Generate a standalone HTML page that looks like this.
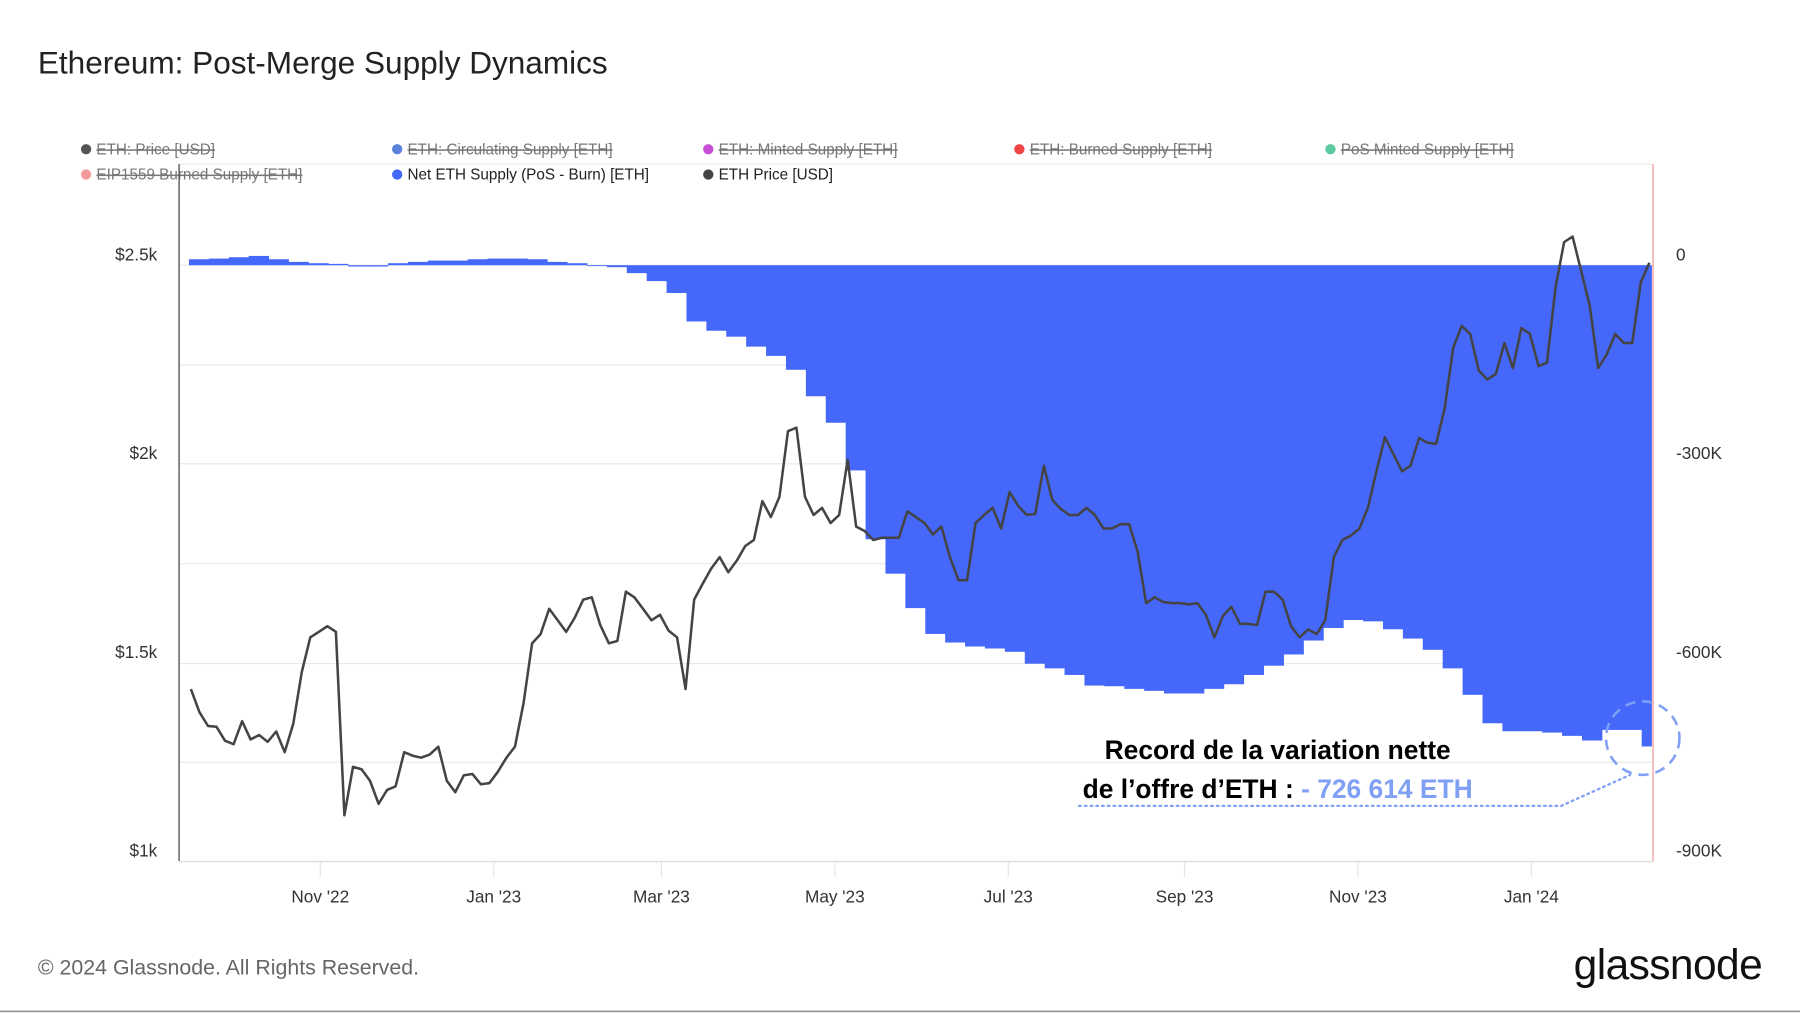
<!DOCTYPE html>
<html><head><meta charset="utf-8">
<style>
html,body{margin:0;padding:0;background:#fff;}
svg{display:block;font-family:"Liberation Sans",sans-serif;}
</style></head>
<body>
<svg id="chart" width="1800" height="1013" viewBox="0 0 1568 882.4" xmlns="http://www.w3.org/2000/svg">
<defs><clipPath id="plotClip"><rect x="156" y="143" width="1283" height="608"/></clipPath></defs>
<text x="33" y="64" font-size="27.5" fill="#222">Ethereum: Post-Merge Supply Dynamics</text>

<g font-size="13.3">
 <g><circle cx="75" cy="130" r="4.5" fill="#555"/><text x="84" y="134.5" fill="#777" text-decoration="line-through">ETH: Price [USD]</text></g>
 <g><circle cx="346" cy="130" r="4.5" fill="#5b82d8"/><text x="355" y="134.5" fill="#777" text-decoration="line-through">ETH: Circulating Supply [ETH]</text></g>
 <g><circle cx="617" cy="130" r="4.5" fill="#c94fd6"/><text x="626" y="134.5" fill="#777" text-decoration="line-through">ETH: Minted Supply [ETH]</text></g>
 <g><circle cx="888" cy="130" r="4.5" fill="#ee4444"/><text x="897" y="134.5" fill="#777" text-decoration="line-through">ETH: Burned Supply [ETH]</text></g>
 <g><circle cx="1159" cy="130" r="4.5" fill="#5cc9a0"/><text x="1168" y="134.5" fill="#777" text-decoration="line-through">PoS Minted Supply [ETH]</text></g>
 <g><circle cx="75" cy="152" r="4.5" fill="#f59a9a"/><text x="84" y="156.5" fill="#777" text-decoration="line-through">EIP1559 Burned Supply [ETH]</text></g>
 <g><circle cx="346" cy="152" r="4.5" fill="#4568fa"/><text x="355" y="156.5" fill="#222">Net ETH Supply (PoS - Burn) [ETH]</text></g>
 <g><circle cx="617" cy="152" r="4.5" fill="#444"/><text x="626" y="156.5" fill="#222">ETH Price [USD]</text></g>
</g>

<g id="grid"></g>
<g id="bars" clip-path="url(#plotClip)"></g>
<path id="priceLine" fill="none" stroke="#444" stroke-width="2.2" stroke-linejoin="round"/>
<line x1="156" y1="143" x2="156" y2="750" stroke="#555" stroke-width="1.2"/>
<line x1="156" y1="750.5" x2="1440" y2="750.5" stroke="#ddd" stroke-width="1.2"/>
<line x1="1440" y1="143" x2="1440" y2="750" stroke="#f4a0a0" stroke-width="1.2"/>
<g id="leftTicks" font-size="15" fill="#333" text-anchor="end"></g>
<g id="rightTicks" font-size="15" fill="#333"></g>
<g id="xTicks" font-size="15" fill="#333" text-anchor="middle"></g>

<g>
 <text x="1113" y="661" text-anchor="middle" font-size="23" font-weight="bold" fill="#000">Record de la variation nette</text>
 <text x="1113" y="695" text-anchor="middle" font-size="23" font-weight="bold" fill="#000">de l’offre d’ETH : <tspan fill="#7fa0f5">- 726 614 ETH</tspan></text>
 <polyline points="940,702 1360,702 1420,675" fill="none" stroke="#7fa0f5" stroke-width="2" stroke-dasharray="1.5,3.5" stroke-linecap="round"/>
 <circle cx="1431" cy="643" r="32" fill="none" stroke="#7fa0f5" stroke-width="2.2" stroke-dasharray="9,6"/>
</g>

<text x="33" y="849" font-size="18.6" fill="#666">© 2024 Glassnode. All Rights Reserved.</text>
<text x="1535" y="853" text-anchor="end" font-size="37" fill="#111" letter-spacing="-0.5">glassnode</text>
<line x1="0" y1="881" x2="1568" y2="881" stroke="#999" stroke-width="1.5"/>
</svg>
<script>
// dates: day offsets from 2022-09-15
const priceStepDays = 3;
const priceValues = [1433,1375,1340,1338,1303,1294,1352,1306,1317,1300,1326,1274,1346,1476,1563,1577,1591,1577,1115,1237,1231,1202,1144,1179,1188,1274,1265,1260,1268,1288,1202,1173,1216,1219,1193,1196,1225,1260,1288,1398,1548,1571,1635,1606,1577,1612,1658,1664,1594,1548,1554,1678,1664,1635,1606,1620,1580,1563,1433,1658,1698,1736,1765,1727,1756,1793,1808,1906,1866,1917,2082,2091,1917,1871,1889,1851,1871,2010,1842,1831,1808,1814,1814,1814,1880,1866,1851,1822,1842,1765,1707,1707,1851,1871,1889,1837,1929,1894,1871,1874,1995,1909,1886,1871,1871,1889,1871,1837,1837,1848,1848,1779,1649,1664,1652,1649,1649,1646,1649,1620,1563,1617,1640,1597,1597,1594,1678,1678,1658,1591,1563,1583,1571,1606,1765,1808,1819,1837,1889,1981,2067,2024,1981,1995,2065,2053,2050,2140,2292,2347,2327,2235,2212,2226,2304,2241,2342,2327,2246,2255,2443,2558,2572,2486,2399,2241,2275,2327,2304,2304,2457,2506];
const supplyStepDays = 7;
const supplyValuesK = [9,10,12,14,9,5,3,2,-2,-2,3,5,7,7,9,10,10,9,5,3,0,-3,-12,-24,-42,-85,-99,-108,-123,-137,-158,-198,-238,-310,-414,-466,-518,-557,-570,-576,-579,-584,-602,-609,-619,-635,-636,-640,-643,-647,-647,-640,-633,-619,-605,-588,-567,-548,-536,-538,-550,-564,-581,-609,-649,-692,-704,-704,-706,-711,-718,-702,-702,-727];
const leftTickValues = [1000,1500,2000,2500];
const leftTickLabels = ["$1k","$1.5k","$2k","$2.5k"];
const rightTickValuesK = [0,-300,-600,-900];
const rightTickLabels = ["0","-300K","-600K","-900K"];
const xTickDays = [47,108,167,228,289,351,412,473];
const xTickLabels = ["Nov '22","Jan '23","Mar '23","May '23","Jul '23","Sep '23","Nov '23","Jan '24"];

const NS="http://www.w3.org/2000/svg";
const X0=162.6, PXD=2.4765;
const xs=d=>X0+d*PXD;
const yPrice=p=>750-(p-1000)*(519/1500);
const ySupply=v=>231-v*(519/900);

const grid=document.getElementById('grid');
[143,231,318,404,491,578,664].forEach(y=>{
  const l=document.createElementNS(NS,'line');
  
  
  l.setAttribute('x1',156);l.setAttribute('x2',1440);l.setAttribute('y1',y);l.setAttribute('y2',y);
  l.setAttribute('stroke','#e8e8e8');l.setAttribute('stroke-width','1');
  grid.appendChild(l);
});

const bars=document.getElementById('bars');
supplyValuesK.forEach((v,i)=>{
  const x=xs(i*supplyStepDays)+2, w=supplyStepDays*PXD+0.4;
  const y0=ySupply(0), y1=ySupply(v);
  const r=document.createElementNS(NS,'rect');
  
  
  r.setAttribute('x',x);r.setAttribute('width',w);
  r.setAttribute('y',Math.min(y0,y1));r.setAttribute('height',Math.max(Math.abs(y1-y0),0.8));
  r.setAttribute('fill','#4568fa');
  bars.appendChild(r);
});

let d='';
priceValues.forEach((p,i)=>{d+=(i?'L':'M')+xs(i*priceStepDays+1.5).toFixed(1)+','+yPrice(p).toFixed(1);});
document.getElementById('priceLine').setAttribute('d',d);

const lt=document.getElementById('leftTicks');
leftTickValues.forEach((v,i)=>{
  const t=document.createElementNS(NS,'text');
  
  
  t.setAttribute('x',137);t.setAttribute('y',yPrice(v)-4);t.textContent=leftTickLabels[i];lt.appendChild(t);
});
const rt=document.getElementById('rightTicks');
rightTickValuesK.forEach((v,i)=>{
  const t=document.createElementNS(NS,'text');
  
  
  t.setAttribute('x',1460);t.setAttribute('y',ySupply(v)-4);t.textContent=rightTickLabels[i];rt.appendChild(t);
});
const xt=document.getElementById('xTicks');
xTickDays.forEach((dd,i)=>{
  const x=xs(dd);
  const l=document.createElementNS(NS,'line');
  
  
  l.setAttribute('x1',x);l.setAttribute('x2',x);l.setAttribute('y1',751);l.setAttribute('y2',764);
  l.setAttribute('stroke','#e4e4e4');xt.appendChild(l);
  const t=document.createElementNS(NS,'text');
  
  
  t.setAttribute('x',x);t.setAttribute('y',786);t.textContent=xTickLabels[i];xt.appendChild(t);
});
</script>
</body></html>
